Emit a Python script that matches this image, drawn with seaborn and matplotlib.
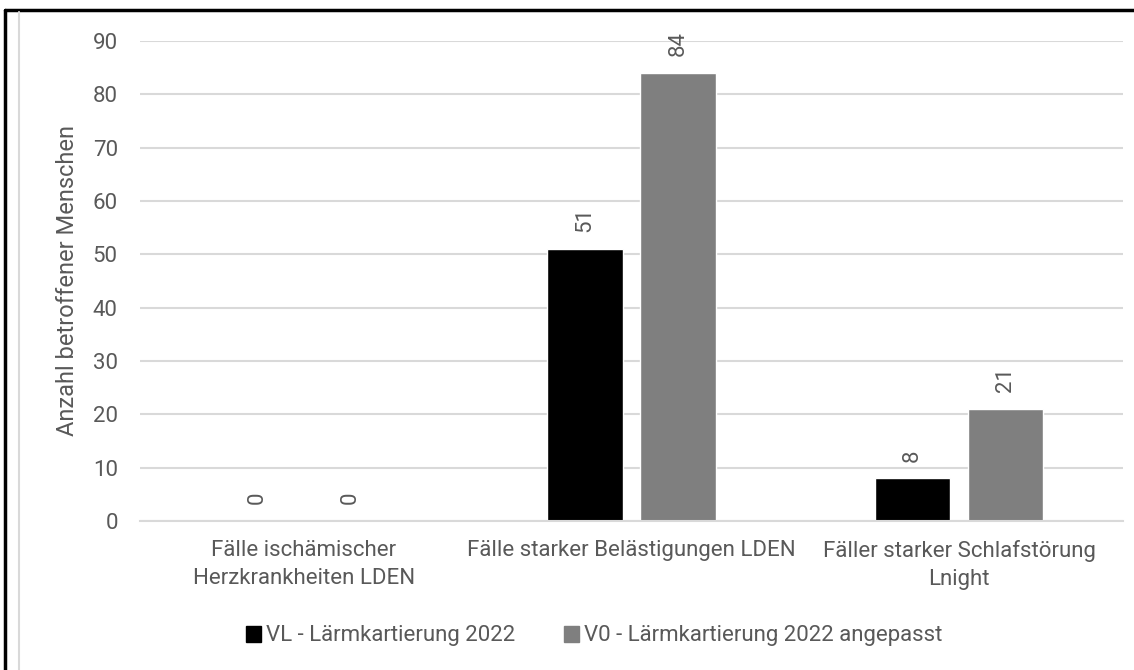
import matplotlib
matplotlib.use("Agg")
import matplotlib.pyplot as plt
import seaborn as sns
import pandas as pd
from matplotlib.lines import Line2D
from matplotlib.patches import Patch

# =========================
# DATA
# =========================
categories = [
    "Fälle ischämischer\nHerzkrankheiten LDEN",
    "Fälle starker Belästigungen LDEN",
    "Fäller starker Schlafstörung\nLnight",
]
series_names = ["VL - Lärmkartierung 2022", "V0 - Lärmkartierung 2022 angepasst"]
vl_values = [0, 51, 8]
v0_values = [0, 84, 21]
y_ticks = [0, 10, 20, 30, 40, 50, 60, 70, 80, 90]

df = pd.DataFrame({
    "Kategorie": categories * 2,
    "Serie": [series_names[0]] * 3 + [series_names[1]] * 3,
    "Wert": vl_values + v0_values,
})

# =========================
# STYLE
# =========================
sns.set_style("white")
plt.rcParams["font.family"] = ["Roboto", "DejaVu Sans"]
text_col = "#595959"
grid_col = "#d9d9d9"
colors = ["#000000", "#7f7f7f"]
fs = 16

fig = plt.figure(figsize=(11.34, 6.70), dpi=100)
ax = fig.add_axes([140 / 1134, 1 - 521 / 670, (1123 - 140) / 1134, (521 - 41) / 670])

sns.barplot(data=df, x="Kategorie", y="Wert", hue="Serie", order=categories,
            hue_order=series_names, palette=colors, width=0.567, gap=0.19,
            saturation=1, ax=ax, legend=False)

for c in ax.containers:
    ax.bar_label(c, rotation=90, padding=12, fontsize=fs, color=text_col)

ax.set_ylim(0, 90)
ax.set_xlim(-0.5, 2.5)
ax.set_yticks(y_ticks)
ax.yaxis.grid(True, color=grid_col, linewidth=1.5)
ax.set_axisbelow(True)
for s in ["top", "right", "left"]:
    ax.spines[s].set_visible(False)
ax.spines["bottom"].set_color(grid_col)
ax.spines["bottom"].set_linewidth(1.5)
ax.tick_params(axis="both", length=0, labelsize=fs, labelcolor=text_col)
ax.tick_params(axis="y", pad=16)
ax.tick_params(axis="x", pad=14)
for lbl in ax.get_xticklabels():
    lbl.set_multialignment("center")
    lbl.set_linespacing(1.4)
ax.set_xlabel("")
ax.set_ylabel("Anzahl betroffener Menschen", fontsize=fs + 1, color=text_col, labelpad=10)

handles = [Patch(facecolor=col, edgecolor=col) for col in colors]
fig.legend(handles, series_names, loc="center", bbox_to_anchor=(594 / 1134, 1 - 636 / 670),
           ncol=2, frameon=False, fontsize=fs, labelcolor=text_col,
           handlelength=0.7, handleheight=0.7, handletextpad=0.2, columnspacing=2.2)

# image frame
fig.add_artist(Line2D([5 / 1134, 1], [1 - 10 / 670, 1 - 10 / 670], color="black", lw=2.5))
fig.add_artist(Line2D([5 / 1134, 5 / 1134], [0, 1 - 10 / 670], color="black", lw=2.5))
fig.add_artist(Line2D([19 / 1134, 19 / 1134], [0, 1 - 12 / 670], color=grid_col, lw=1.5))

fig.savefig("out.png", dpi=100)
